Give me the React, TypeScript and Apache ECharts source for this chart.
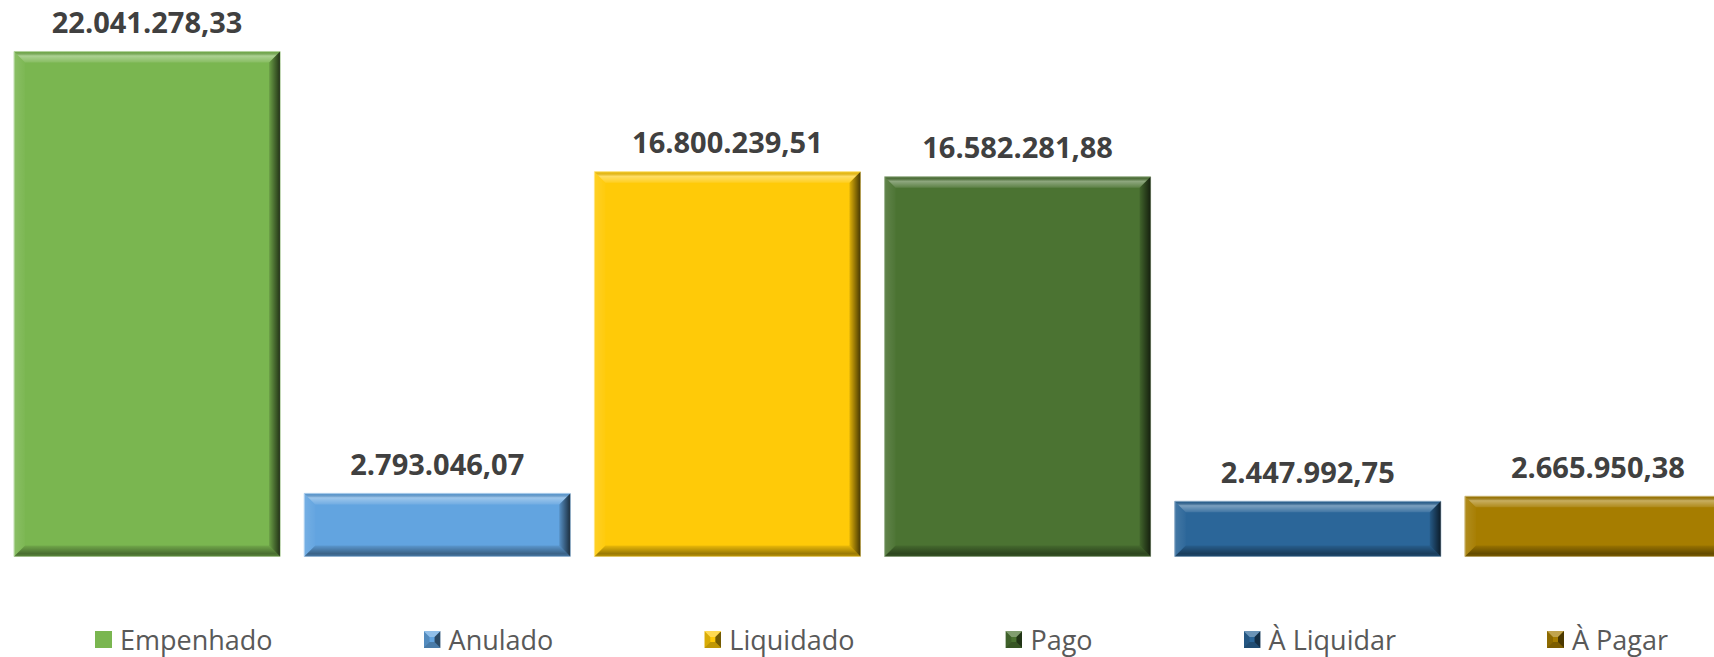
import React, { useEffect, useRef } from "react";
import * as echarts from "echarts";

const categories = ["Empenhado", "Anulado", "Liquidado", "Pago", "À Liquidar", "À Pagar"];
const values = [22041278.33, 2793046.07, 16800239.51, 16582281.88, 2447992.75, 2665950.38];
const colors = ["#7AB650", "#62A4E0", "#FFCA08", "#4B7332", "#2B6699", "#A67D00"];
const beveledLegend = [false, true, true, true, true, true];

function fmt(v: number): string {
  const [i, d] = v.toFixed(2).split(".");
  return i.replace(/\B(?=(\d{3})+(?!\d))/g, ".") + "," + d;
}

function mix(hex: string, target: number, t: number): string {
  const n = parseInt(hex.slice(1), 16);
  const r = (n >> 16) & 255, g = (n >> 8) & 255, b = n & 255;
  const m = (c: number) => Math.round(c + (target - c) * t);
  return `rgb(${m(r)},${m(g)},${m(b)})`;
}

function legendIcon(color: string, bevel: boolean): string {
  let svg = `<svg xmlns='http://www.w3.org/2000/svg' width='17' height='17'><rect width='17' height='17' fill='${color}'/>`;
  if (bevel) {
    svg +=
      `<polygon points='0,0 17,0 11,6 6,6' fill='rgba(255,255,255,0.3)'/>` +
      `<polygon points='0,0 6,6 6,11 0,17' fill='rgba(0,0,0,0.15)'/>` +
      `<polygon points='17,0 17,17 11,11 11,6' fill='rgba(0,0,0,0.55)'/>` +
      `<polygon points='0,17 17,17 11,11 6,11' fill='rgba(0,0,0,0.25)'/>`;
  }
  svg += `</svg>`;
  return "image://data:image/svg+xml;charset=utf-8," + encodeURIComponent(svg);
}

export default function App() {
  const ref = useRef<HTMLDivElement>(null);
  useEffect(() => {
    document.body.style.margin = "0";
    const chart = echarts.init(ref.current!, null, { renderer: "svg" });
    const BW = 267;
    const barSeries: any[] = categories.map((name, i) => ({
      name,
      type: "bar",
      stack: "all",
      barWidth: BW,
      data: categories.map((_, j) => (j === i ? values[i] : "-")),
      itemStyle: { color: colors[i], borderColor: mix(colors[i], 255, 0.45), borderWidth: 1 },
      label: {
        show: true,
        position: "top",
        distance: 15,
        formatter: (p: any) => fmt(p.value),
        fontFamily: "Open Sans",
        fontWeight: "bold",
        fontSize: 29,
        color: "#404040",
      },
      z: 2,
    }));
    const bevel = {
      type: "custom",
      name: "bevel",
      silent: true,
      z: 3,
      data: values.map((v, i) => [i, v]),
      renderItem: (params: any, api: any) => {
        const i = api.value(0);
        const v = api.value(1);
        const t = api.coord([i, v]);
        const b = api.coord([i, 0]);
        const x0 = t[0] - BW / 2 + 0.5, x1 = t[0] + BW / 2 - 0.5;
        const y0 = t[1] + 0.5, y1 = b[1] - 0.5;
        const s = 11;
        const G = echarts.graphic.LinearGradient;
        return {
          type: "group",
          children: [
            {
              type: "polygon",
              shape: { points: [[x0, y0], [x1, y0], [x1 - s, y0 + s], [x0 + s, y0 + s]] },
              style: {
                fill: new G(0, 0, 0, 1, [
                  { offset: 0, color: "rgba(0,0,0,0.04)" },
                  { offset: 0.4, color: "rgba(255,255,255,0.38)" },
                  { offset: 1, color: "rgba(255,255,255,0.1)" },
                ]),
              },
            },
            {
              type: "polygon",
              shape: { points: [[x0, y0], [x0 + s, y0 + s], [x0 + s, y1 - s], [x0, y1]] },
              style: {
                fill: new G(0, 0, 1, 0, [
                  { offset: 0, color: "rgba(255,255,255,0.12)" },
                  { offset: 1, color: "rgba(255,255,255,0.02)" },
                ]),
              },
            },
            {
              type: "polygon",
              shape: { points: [[x1, y0], [x1, y1], [x1 - s, y1 - s], [x1 - s, y0 + s]] },
              style: {
                fill: new G(0, 0, 1, 0, [
                  { offset: 0, color: "rgba(0,0,0,0.12)" },
                  { offset: 1, color: "rgba(0,0,0,0.72)" },
                ]),
              },
            },
            {
              type: "polygon",
              shape: { points: [[x0, y1], [x1, y1], [x1 - s, y1 - s], [x0 + s, y1 - s]] },
              style: {
                fill: new G(0, 0, 0, 1, [
                  { offset: 0, color: "rgba(0,0,0,0.08)" },
                  { offset: 0.75, color: "rgba(0,0,0,0.4)" },
                  { offset: 1, color: "rgba(0,0,0,0.25)" },
                ]),
              },
            },
          ],
        };
      },
    };
    chart.setOption({
      animation: false,
      grid: { left: 2, top: 6, right: 2, height: 551 },
      xAxis: {
        type: "category",
        data: categories,
        show: false,
      },
      yAxis: { type: "value", min: 0, max: 24000000, show: false },
      legend: {
        left: 95,
        top: 626,
        padding: 0,
        itemGap: 151,
        itemWidth: 17,
        itemHeight: 17,
        data: categories.map((name, i) => ({ name, icon: legendIcon(colors[i], beveledLegend[i]) })),
        textStyle: {
          fontFamily: "Open Sans",
          fontSize: 27,
          color: "#595959",
          padding: [0, 0, 0, 3],
        },
      },
      series: [...barSeries, bevel],
    });
    return () => chart.dispose();
  }, []);
  return (
    <div style={{ width: 1714, height: 657, overflow: "hidden", position: "relative" }}>
      <div ref={ref} style={{ width: 1745, height: 657 }} />
    </div>
  );
}
